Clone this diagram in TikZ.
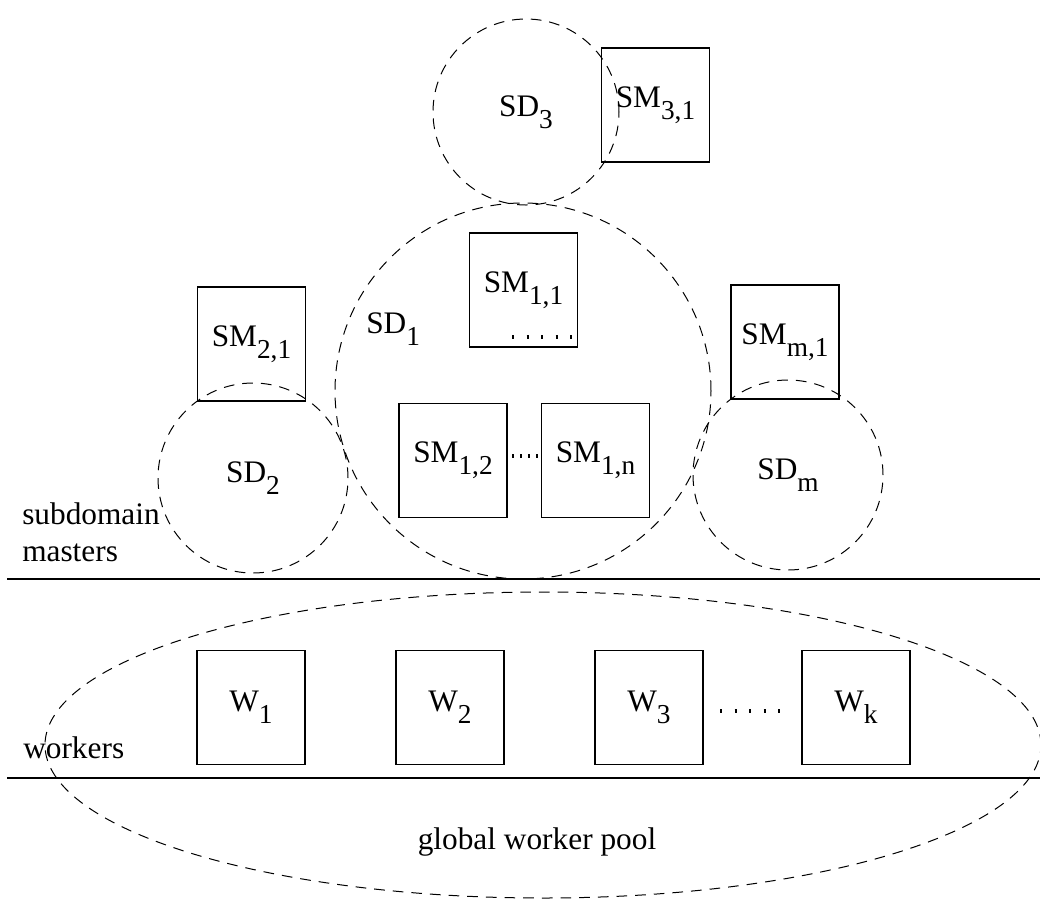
\documentclass[tikz,border=0pt]{standalone}
\usepackage{fontspec}
\setmainfont{Liberation Serif}
\usetikzlibrary{shapes.geometric}
\newcommand{\subs}[1]{\raisebox{-9pt}{\fontsize{20.5pt}{20.5pt}\selectfont #1}}

\begin{document}
\begin{tikzpicture}[x=0.75pt, y=-0.75pt,
  every node/.style={font=\fontsize{23.5pt}{28pt}\selectfont, inner sep=0pt},
  smbox/.style={draw, line width=1.1pt, minimum width=81pt, minimum height=85.5pt},
  sdcircle/.style={draw, circle, line width=0.75pt, dash pattern=on 8pt off 6pt},
  dotrow/.style={line width=3pt, dash pattern=on 1.5pt off 9.4pt},
  sepline/.style={line width=2pt}]
  \useasboundingbox (0,0) rectangle (1040,901);

  \node[sdcircle, minimum size=139.5pt] (sd3) at (526,112) {SD\subs{3}};
  \node[sdcircle, minimum size=282pt] (sd1) at (523,391) {};
  \node[sdcircle, minimum size=142.5pt] (sd2) at (253,478) {SD\subs{2}};
  \node[sdcircle, minimum size=142.5pt] (sdm) at (788,475) {SD\subs{m}};
  \node[anchor=base west] (sd1lbl) at (366,333) {SD\subs{1}};

  \node[smbox] (sm31) at (655.5,105) {SM\subs{3,1}};
  \node[smbox] (sm11) at (523.5,290) {SM\subs{1,1}};
  \node[smbox] (sm21) at (251.5,344) {SM\subs{2,1}};
  \node[smbox] (smm1) at (785,342) {SM\subs{m,1}};
  \node[smbox] (sm12) at (453,460.5) {SM\subs{1,2}};
  \node[smbox] (sm1n) at (595.5,460.5) {SM\subs{1,n}};

  \draw[dotrow] (512,337) -- (572,337);
  \draw[dotrow, dash pattern=on 1.5pt off 4.5pt] (512,456) -- (542,456);

  \node[anchor=west, align=left] (masters) at (22,532) {subdomain\\masters};
  \draw[sepline] (7,579) -- (1040,579);

  \node[draw, ellipse, line width=0.75pt, dash pattern=on 8pt off 6pt,
    minimum width=747pt, minimum height=229.5pt] (pool) at (543,745) {};
  \foreach \x/\i in {251/1, 450/2, 649/3, 856/k}
    \node[smbox] (w\i) at (\x,707.5) {W\subs{\i}};
  \draw[dotrow] (720,711) -- (780,711);

  \node[anchor=base west] (workers) at (23,758) {workers};
  \draw[sepline] (7,778) -- (1040,778);
  \node[anchor=base] (poollbl) at (537,849) {global worker pool};
\end{tikzpicture}
\end{document}
